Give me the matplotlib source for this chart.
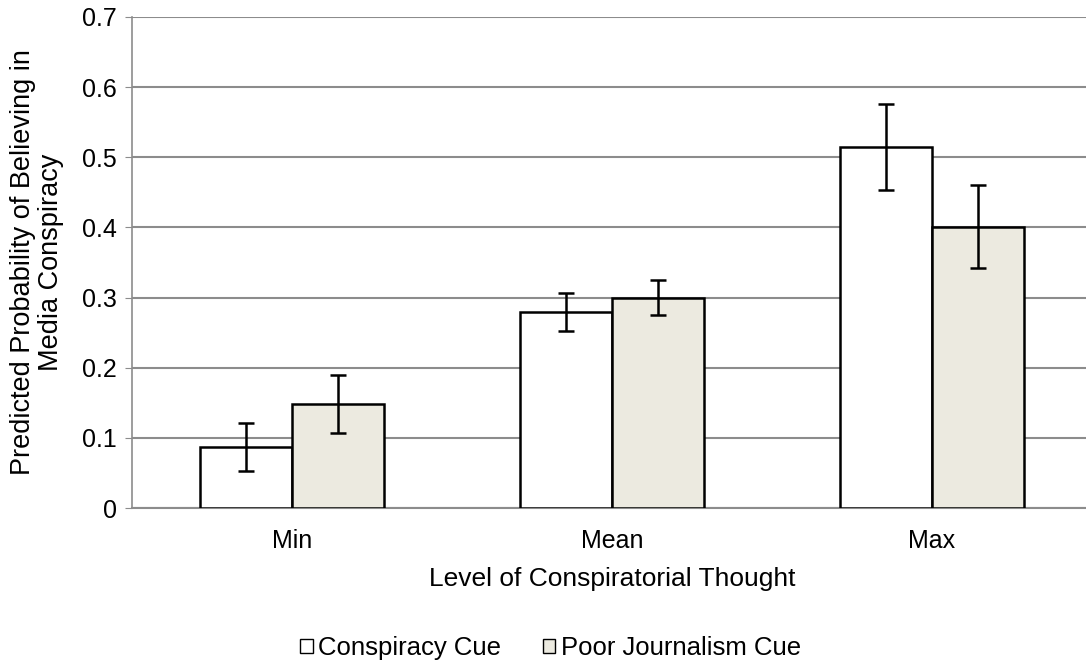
import numpy as np
import matplotlib.pyplot as plt
from matplotlib.patches import Patch

plt.rcParams['font.family'] = ['Liberation Sans', 'DejaVu Sans']

levels = ["Min", "Mean", "Max"]
series = ["Conspiracy Cue", "Poor Journalism Cue"]
consp = [0.087, 0.280, 0.514]
consp_lo = [0.053, 0.253, 0.453]
consp_hi = [0.121, 0.307, 0.576]
poor = [0.148, 0.300, 0.401]
poor_lo = [0.107, 0.275, 0.342]
poor_hi = [0.190, 0.325, 0.460]

colors = ["white", "#ECEAE0"]

fig = plt.figure(figsize=(10.86, 6.66), dpi=100)
ax = fig.add_axes([132 / 1086, 0.2372, 960 / 1086, 0.7373])

x = np.arange(len(levels))
w = 0.286
for i, (vals, lo, hi) in enumerate([(consp, consp_lo, consp_hi), (poor, poor_lo, poor_hi)]):
    vals = np.array(vals)
    pos = x + (i - 0.5) * w
    ax.bar(pos, vals, width=w, color=colors[i], edgecolor="black", linewidth=1.8, zorder=3)
    err = [vals - np.array(lo), np.array(hi) - vals]
    ax.errorbar(pos, vals, yerr=err, fmt="none", ecolor="black", elinewidth=1.8,
                capsize=6, capthick=1.8, zorder=4)

ax.set_xlim(-0.5, 2.5)
ax.set_ylim(0, 0.7)
ax.set_yticks(np.arange(0, 0.71, 0.1))
ax.set_yticklabels(["0", "0.1", "0.2", "0.3", "0.4", "0.5", "0.6", "0.7"])
ax.set_xticks(x)
ax.set_xticklabels(levels)
ax.yaxis.grid(True, color="#8c8c8c", linewidth=1.5, zorder=0)
ax.set_axisbelow(True)
for s in ["top", "right"]:
    ax.spines[s].set_visible(False)
ax.spines["left"].set_color("#8c8c8c")
ax.spines["bottom"].set_color("#8c8c8c")
ax.spines["left"].set_linewidth(1.2)
ax.spines["bottom"].set_linewidth(1.5)
ax.tick_params(axis="y", length=5, color="#8c8c8c", labelsize=18, pad=6)
ax.tick_params(axis="x", length=0, labelsize=18, pad=15)

ax.set_xlabel("Level of Conspiratorial Thought", fontsize=19, labelpad=10)
ax.set_ylabel("Predicted Probability of Believing in\nMedia Conspiracy", fontsize=19.5,
              linespacing=1.1)
ax.yaxis.set_label_coords(-0.071, 0.5)

handles = [Patch(facecolor=colors[i], edgecolor="black", linewidth=1) for i in range(2)]
fig.legend(handles, series, loc="center", bbox_to_anchor=(0.507, 0.027), ncol=2,
           frameon=False, fontsize=18.5, handlelength=0.5, handleheight=0.5,
           handletextpad=0.2, columnspacing=1.6)

fig.savefig("out.png", dpi=100)
